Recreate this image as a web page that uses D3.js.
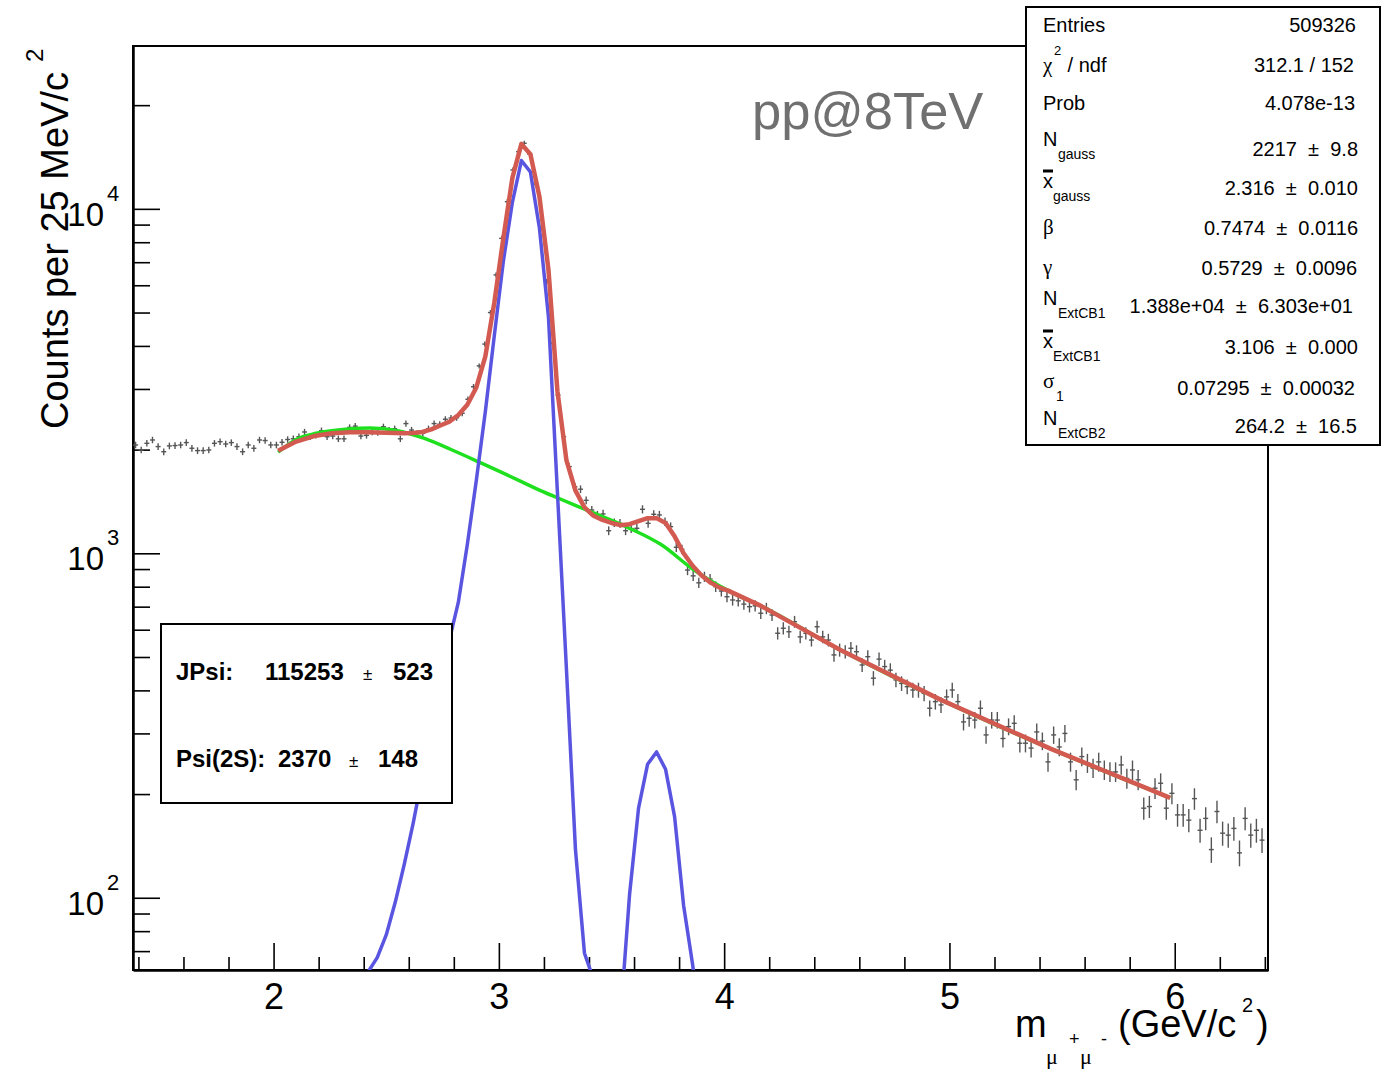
<!DOCTYPE html>
<html>
<head>
<meta charset="utf-8">
<script src="https://cdn.jsdelivr.net/npm/d3@7"></script>
<style>
  body { margin: 0; background: #fff; }
  svg { display: block; }
  text { white-space: pre; }
</style>
</head>
<body>
<svg id="chart" width="1381" height="1069"></svg>
<script>
// Histogram: 25 MeV/c^2 bins starting at 1.375 GeV/c^2
const BIN_START = 1.375;
const BIN_WIDTH = 0.025;
const counts = [
  2063, 1995, 2086, 2133, 2041, 1972, 2050, 2055, 2063, 2096,
  2018, 1987, 1987, 1995, 2086, 2109, 2077, 2096, 2041, 1972,
  2063, 2018, 2133, 2125, 2063, 2063, 2100, 2140, 2150, 2180,
  2250, 2180, 2200, 2270, 2180, 2190, 2150, 2150, 2320, 2340,
  2190, 2200, 2250, 2240, 2330, 2280, 2300, 2150, 2380, 2280,
  2230, 2230, 2300, 2380, 2370, 2450, 2470, 2475, 2550, 2800,
  3045, 3500, 4050, 5000, 6430, 8210, 10490, 12970, 14660, 15500,
  14400, 11800, 8785, 6150, 4075, 2880, 2180, 1785, 1560, 1535,
  1425, 1336, 1292, 1301, 1163, 1227, 1222, 1163, 1180, 1182,
  1342, 1222, 1298, 1292, 1236, 1195, 1041, 1027, 894, 860,
  821, 855, 842, 800, 777, 748, 732, 728, 712, 700,
  704, 670, 692, 662, 586, 606, 592, 633, 572, 586,
  560, 612, 572, 560, 507, 524, 518, 530, 518, 474,
  501, 434, 493, 469, 458, 429, 419, 410, 401, 401,
  392, 355, 371, 363, 383, 401, 371, 324, 332, 328,
  355, 297, 328, 328, 290, 314, 321, 281, 281, 272,
  303, 285, 248, 297, 274, 300, 248, 220, 257, 246,
  238, 248, 235, 232, 232, 243, 222, 235, 220, 182,
  184, 208, 215, 182, 201, 174, 174, 168, 194, 157,
  170, 138, 178, 154, 152, 159, 135, 170, 152, 157,
  147
];

// Total fit (red)
const totalX = [2.02, 2.10, 2.18, 2.26, 2.34, 2.42, 2.50, 2.58, 2.62, 2.66,
  2.70, 2.74, 2.78, 2.82, 2.86, 2.90, 2.94, 2.98, 3.02, 3.06,
  3.10, 3.14, 3.18, 3.22, 3.26, 3.30, 3.34, 3.38, 3.42, 3.46,
  3.50, 3.54, 3.58, 3.62, 3.66, 3.70, 3.74, 3.78, 3.82, 3.86,
  3.90, 3.94, 3.98, 4.02, 4.161, 4.516, 4.96, 5.448, 5.98];
const totalY = [1985, 2110, 2190, 2230, 2245, 2245, 2238, 2232, 2235, 2250,
  2290, 2350, 2410, 2520, 2700, 3030, 3730, 5350, 8230, 12300,
  15440, 14400, 10850, 6670, 2955, 1860, 1520, 1360, 1285, 1250,
  1225, 1207, 1215, 1240, 1265, 1265, 1225, 1120, 1000, 920,
  862, 822, 795, 778, 705, 524, 376, 271, 195];

// Background (green)
const bkgX = [2.02, 2.10, 2.19, 2.33, 2.43, 2.55, 2.67, 2.785, 2.92, 3.01,
  3.10, 3.185, 3.27, 3.42, 3.57, 3.72, 3.865, 4.02, 4.161, 4.516,
  4.96, 5.448, 5.98];
const bkgY = [1965, 2140, 2230, 2295, 2310, 2270, 2155, 2005, 1830, 1720,
  1615, 1520, 1440, 1310, 1190, 1060, 895, 778, 705, 524,
  376, 271, 195];

// Signal (blue): J/psi and psi(2S) parts
const jpsiX = [2.38, 2.42, 2.46, 2.50, 2.54, 2.58, 2.62, 2.66, 2.70, 2.74,
  2.78, 2.82, 2.86, 2.90, 2.94, 2.98, 3.02, 3.06, 3.10, 3.14,
  3.18, 3.22, 3.26, 3.30, 3.34, 3.38, 3.42];
const jpsiY = [52, 61, 67, 78, 97, 125, 165, 225, 300, 405,
  560, 720, 1060, 1630, 2580, 4300, 7050, 10450, 13810, 12800,
  8800, 4870, 1500, 460, 138, 69, 58];
const psi2sX = [3.54, 3.58, 3.62, 3.66, 3.70, 3.74, 3.78, 3.82, 3.86, 3.90];
const psi2sY = [45, 102, 182, 244, 265, 236, 172, 95, 64, 40];

const xTicks = [2, 3, 4, 5, 6];
const yTicks = [100, 1000, 10000];

const statsLabels = [
  { main: 'Entries' },
  { main: 'χ', sup: '2', tail: ' / ndf', greek: true },
  { main: 'Prob' },
  { main: 'N', sub: 'gauss' },
  { main: 'x', sub: 'gauss', bar: true },
  { main: 'β', greek: true },
  { main: 'γ', greek: true },
  { main: 'N', sub: 'ExtCB1' },
  { main: 'x', sub: 'ExtCB1', bar: true },
  { main: 'σ', sub: '1', greek: true },
  { main: 'N', sub: 'ExtCB2' }
];
const statsValues = ['509326', '312.1 / 152', '4.078e-13', '2217  ±  9.8', '2.316  ±  0.010',
  '0.7474  ±  0.0116', '0.5729  ±  0.0096', '1.388e+04  ±  6.303e+01', '3.106  ±  0.000',
  '0.07295  ±  0.00032', '264.2  ±  16.5'];

const yieldNames = ['JPsi:', 'Psi(2S):'];
const yieldValues = ['115253', '2370'];
const yieldErrors = ['523', '148'];

// Layout
const FONT = '"Liberation Sans", Arial, Helvetica, sans-serif';
const SERIF = '"Liberation Serif", "Times New Roman", serif';
const frame = { left: 133, top: 46, right: 1268, bottom: 970 };
const COLORS = { data: '#555', total: '#d25a50', bkg: '#1ee01e', signal: '#5a55e0' };

const svg = d3.select('#chart').attr('font-family', FONT);

const x = d3.scaleLinear().domain([1.376, 6.414]).range([frame.left, frame.right]);
const y = d3.scaleLog().domain([61.7, 29700]).range([frame.bottom, frame.top]);

svg.append('rect').attr('width', 1381).attr('height', 1069).attr('fill', '#fff');

svg.append('defs').append('clipPath').attr('id', 'plot-clip')
  .append('rect')
  .attr('x', frame.left).attr('y', frame.top)
  .attr('width', frame.right - frame.left).attr('height', frame.bottom - frame.top);

// Frame
svg.append('rect')
  .attr('x', frame.left).attr('y', frame.top)
  .attr('width', frame.right - frame.left).attr('height', frame.bottom - frame.top)
  .attr('fill', 'none').attr('stroke', '#000').attr('stroke-width', 2);

// X axis ticks (inside the frame)
const xMinor = d3.range(14, 65, 2).map(v => v / 10)
  .filter(v => v >= x.domain()[0] && v <= x.domain()[1] && !xTicks.includes(v));

const xMinorAxis = svg.append('g')
  .attr('transform', `translate(0,${frame.bottom})`)
  .call(d3.axisBottom(x).tickValues(xMinor).tickSizeInner(-13).tickSizeOuter(0).tickFormat(''));
xMinorAxis.select('.domain').remove();

const xMajorAxis = svg.append('g')
  .attr('transform', `translate(0,${frame.bottom})`)
  .call(d3.axisBottom(x).tickValues(xTicks).tickSizeInner(-27).tickSizeOuter(0)
    .tickPadding(13).tickFormat(d3.format('d')));
xMajorAxis.attr('font-family', FONT).attr('font-size', 36);
xMajorAxis.select('.domain').attr('stroke-width', 2.5);
svg.selectAll('.tick line').attr('stroke', '#000').attr('stroke-width', 1.6);

// Y axis ticks (log)
const yMinor = [];
[10, 100, 1000, 10000].forEach((dec) => {
  d3.range(2, 10).forEach((k) => {
    const v = k * dec;
    if (v >= y.domain()[0] && v <= y.domain()[1]) yMinor.push(v);
  });
});

const yMinorAxis = svg.append('g')
  .attr('transform', `translate(${frame.left},0)`)
  .call(d3.axisLeft(y).tickValues(yMinor).tickSizeInner(-17).tickSizeOuter(0).tickFormat(''));
yMinorAxis.select('.domain').remove();

const yMajorAxis = svg.append('g')
  .attr('transform', `translate(${frame.left},0)`)
  .call(d3.axisLeft(y).tickValues(yTicks).tickSizeInner(-27).tickSizeOuter(0).tickFormat(''));
yMajorAxis.select('.domain').attr('stroke-width', 2.5);
svg.selectAll('.tick line').attr('stroke', '#000').attr('stroke-width', 1.6);

const yLabels = svg.append('g').attr('font-family', FONT);
yTicks.forEach((v) => {
  const ty = y(v);
  yLabels.append('text').attr('x', 104).attr('y', ty + 17)
    .attr('text-anchor', 'end').attr('font-size', 33).text('10');
  yLabels.append('text').attr('x', 107).attr('y', ty - 8)
    .attr('font-size', 22).text(String(Math.round(Math.log10(v))));
});

// Data points with Poisson error bars
const bins = counts.map((c, i) => ({ x: BIN_START + BIN_WIDTH * (i + 0.5), c }))
  .filter(d => d.x >= x.domain()[0] && d.x <= x.domain()[1]);

const pts = svg.append('g').attr('clip-path', 'url(#plot-clip)')
  .attr('stroke', COLORS.data).attr('stroke-width', 1.4);
pts.selectAll('g').data(bins).join('g')
  .each(function (d) {
    const g = d3.select(this);
    const px = x(d.x);
    const py = y(d.c);
    const err = Math.sqrt(d.c);
    const top = Math.min(y(d.c + err), py - 2.5);
    const bot = Math.max(y(d.c - err), py + 2.5);
    g.append('line').attr('x1', px).attr('x2', px).attr('y1', top).attr('y2', bot);
    g.append('line').attr('x1', px - 2.5).attr('x2', px + 2.5).attr('y1', py).attr('y2', py);
  });

// Fit curves
const curves = svg.append('g').attr('clip-path', 'url(#plot-clip)').attr('fill', 'none')
  .attr('stroke-linejoin', 'round');
const lineLinear = d3.line().x(d => x(d[0])).y(d => y(d[1]));
const lineSmooth = d3.line().x(d => x(d[0])).y(d => y(d[1])).curve(d3.curveMonotoneX);

curves.append('path').attr('d', lineSmooth(d3.zip(bkgX, bkgY)))
  .attr('stroke', COLORS.bkg).attr('stroke-width', 3.5);
curves.append('path').attr('d', lineLinear(d3.zip(jpsiX, jpsiY)))
  .attr('stroke', COLORS.signal).attr('stroke-width', 3.5);
curves.append('path').attr('d', lineLinear(d3.zip(psi2sX, psi2sY)))
  .attr('stroke', COLORS.signal).attr('stroke-width', 3.5);
curves.append('path').attr('d', lineLinear(d3.zip(totalX, totalY)))
  .attr('stroke', COLORS.total).attr('stroke-width', 4.5);

// Yield box
const legend = svg.append('g');
legend.append('rect').attr('x', 161).attr('y', 624).attr('width', 291).attr('height', 179)
  .attr('fill', '#fff').attr('stroke', '#000').attr('stroke-width', 2);
const yieldRows = [
  { y: 680, name: 176, val: 265, pm: 363, err: 393 },
  { y: 767, name: 176, val: 278, pm: 349, err: 378 }
];
yieldRows.forEach((r, i) => {
  const t = legend.append('text').attr('y', r.y).attr('font-size', 24).attr('font-weight', 'bold');
  t.append('tspan').attr('x', r.name).text(yieldNames[i]);
  t.append('tspan').attr('x', r.val).text(yieldValues[i]);
  t.append('tspan').attr('x', r.pm).attr('font-size', 17).attr('font-weight', 'normal').text('±');
  t.append('tspan').attr('x', r.err).text(yieldErrors[i]);
});

// Stats box
const stats = svg.append('g');
stats.append('rect').attr('x', 1026).attr('y', 7).attr('width', 354).attr('height', 438)
  .attr('fill', '#fff').attr('stroke', '#000').attr('stroke-width', 2);

const labelBase = [32, 72, 110, 146, 188, 234, 274, 305, 348, 388, 425];
const valueBase = [32, 72, 110, 156, 195, 235, 275, 313, 354, 395, 433];
const valueRight = [1356, 1354, 1355, 1358, 1358, 1358, 1357, 1353, 1358, 1355, 1357];
const subX = { N: 1058, x: 1053, 'σ': 1056 };

statsLabels.forEach((lab, i) => {
  const base = labelBase[i];
  stats.append('text').attr('x', 1043).attr('y', base)
    .attr('font-size', lab.greek ? 21 : 20).attr('font-family', lab.greek ? SERIF : FONT)
    .text(lab.main);
  if (lab.sup) {
    stats.append('text').attr('x', 1054).attr('y', base - 17).attr('font-size', 13).text(lab.sup);
  }
  if (lab.tail) {
    stats.append('text').attr('x', 1062).attr('y', base).attr('font-size', 20).text(lab.tail);
  }
  if (lab.sub) {
    stats.append('text').attr('x', subX[lab.main]).attr('y', base + 13)
      .attr('font-size', 14).text(lab.sub);
  }
  if (lab.bar) {
    stats.append('line').attr('x1', 1043).attr('x2', 1053)
      .attr('y1', base - 17).attr('y2', base - 17)
      .attr('stroke', '#000').attr('stroke-width', 3);
  }
  stats.append('text').attr('x', valueRight[i]).attr('y', valueBase[i])
    .attr('text-anchor', 'end').attr('font-size', 20).text(statsValues[i]);
});

// Titles
svg.append('text').attr('x', 752).attr('y', 129).attr('font-size', 52.5)
  .attr('fill', '#707070').text('pp@8TeV');

const yTitle = svg.append('g');
yTitle.append('text').attr('transform', 'translate(68,72) rotate(-90)')
  .attr('text-anchor', 'end').attr('font-size', 38).text('Counts per 25 MeV/c');
yTitle.append('text').attr('transform', 'translate(43,62) rotate(-90)')
  .attr('font-size', 24).text('2');

const xTitle = svg.append('g');
xTitle.append('text').attr('x', 1015).attr('y', 1037).attr('font-size', 38).text('m');
xTitle.append('text').attr('x', 1046).attr('y', 1064).attr('font-size', 22).attr('font-family', SERIF).text('μ');
xTitle.append('text').attr('x', 1069).attr('y', 1045).attr('font-size', 18).text('+');
xTitle.append('text').attr('x', 1080).attr('y', 1064).attr('font-size', 22).attr('font-family', SERIF).text('μ');
xTitle.append('text').attr('x', 1101).attr('y', 1045).attr('font-size', 18).text('-');
xTitle.append('text').attr('x', 1118).attr('y', 1037).attr('font-size', 38).text('(GeV/c');
xTitle.append('text').attr('x', 1242).attr('y', 1012).attr('font-size', 20).text('2');
xTitle.append('text').attr('x', 1256).attr('y', 1037).attr('font-size', 38).text(')');
</script>
</body>
</html>
